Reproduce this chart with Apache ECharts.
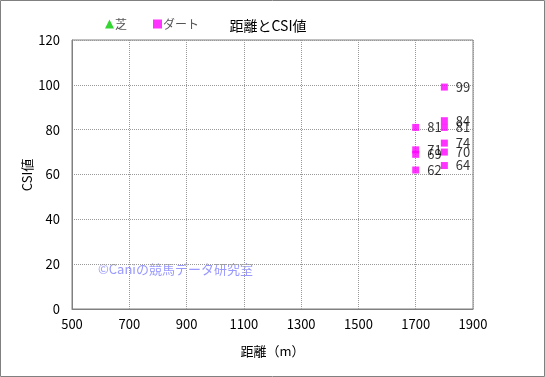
<!DOCTYPE html>
<html>
<head>
<meta charset="UTF-8">
<title></title>
<script src="https://cdn.jsdelivr.net/npm/echarts@6/dist/echarts.min.js"></script>
<style>
html,body{margin:0;padding:0;background:#fff;}
#main{width:545px;height:377px;}
</style>
</head>
<body>
<div id="main"></div>
<script type="text/javascript">
// 芝 (no data) / ダート
var turfData = [];
var dirtDist = [1700, 1700, 1700, 1700, 1800, 1800, 1800, 1800, 1800, 1800];
var dirtCsi  = [81, 71, 69, 62, 99, 84, 81, 74, 70, 64];
var xTicks = [500, 700, 900, 1100, 1300, 1500, 1700, 1900];

var dirtData = [];
for (var i = 0; i < dirtDist.length; i++) {
	dirtData.push([dirtDist[i], dirtCsi[i]]);
}

var font = '"Noto Sans CJK JP", sans-serif';
var chart = echarts.init(document.getElementById("main"));
chart.setOption({
	animation: false,
	textStyle: {fontFamily: font},
	title: {
		text: '距離とCSI値', left: 263, top: 14, textAlign: 'center',
		textStyle: {fontSize: 14, fontWeight: 'normal', color: '#000', fontFamily: font}
	},
	legend: {
		left: 100, top: 13, itemWidth: 9, itemHeight: 9, itemGap: 26,
		textStyle: {fontSize: 12, color: '#555', fontFamily: font, padding: [0, 0, 0, -4]},
		data: [{name: '芝', icon: 'triangle'}, {name: 'ダート', icon: 'rect'}]
	},
	grid: {left: 72, right: 72, top: 40, bottom: 68, show: true, borderColor: '#808080', borderWidth: 1},
	xAxis: {
		type: 'value', min: 500, max: 1900, interval: 200,
		name: '距離（m）', nameLocation: 'middle', nameGap: 36,
		nameTextStyle: {fontSize: 13, color: '#000', fontFamily: font},
		axisLine: {lineStyle: {color: '#808080'}},
		axisTick: {show: false},
		axisLabel: {fontSize: 13, color: '#000', margin: 9,
			formatter: function(v){ return xTicks.indexOf(v) >= 0 ? String(v) : ''; }},
		splitLine: {lineStyle: {type: 'dotted', color: '#999'}}
	},
	yAxis: {
		type: 'value', min: 0, max: 120, interval: 20,
		axisLine: {show: true, lineStyle: {color: '#808080'}},
		axisTick: {show: false},
		axisLabel: {fontSize: 13, color: '#000', margin: 12},
		splitLine: {lineStyle: {type: 'dotted', color: '#999'}}
	},
	graphic: [
		{type: 'rect', shape: {x: 0.5, y: 0.5, width: 544, height: 376}, style: {fill: 'none', stroke: '#808080', lineWidth: 1}, silent: true},
		{type: 'text', x: 27, y: 175, rotation: Math.PI / 2,
			style: {text: 'CSI値', fill: '#000', font: '13px ' + font, align: 'center', verticalAlign: 'middle'}, silent: true},
		{type: 'text', left: 98, top: 263, style: {text: '©Caniの競馬データ研究室', fill: '#9999ff', font: '13px ' + font}, silent: true}
	],
	series: [
		{
			name: '芝', type: 'scatter', symbol: 'triangle', symbolSize: 9,
			itemStyle: {color: '#00cc00'}, data: turfData
		},
		{
			name: 'ダート', type: 'scatter', symbol: 'rect', symbolSize: 7,
			itemStyle: {color: '#ff00ff'}, data: dirtData,
			label: {show: true, position: 'right', distance: 8, color: '#000', fontSize: 13,
				formatter: function(p){ return p.value[1]; }}
		}
	]
});
</script>
</body>
</html>
